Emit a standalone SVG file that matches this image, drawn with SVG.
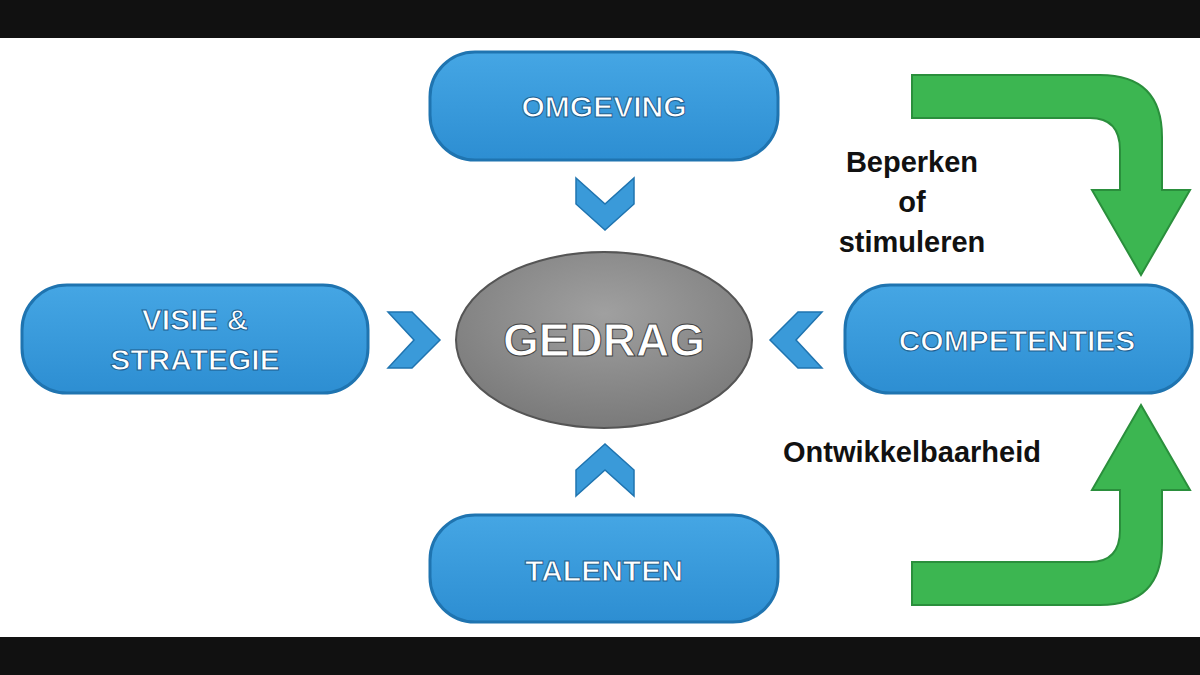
<svg xmlns="http://www.w3.org/2000/svg" width="1200" height="675" viewBox="0 0 1200 675">
<defs>
<linearGradient id="bg" x1="0" y1="0" x2="0" y2="1"><stop offset="0" stop-color="#45a6e4"/><stop offset="1" stop-color="#2d8ed2"/></linearGradient>
<radialGradient id="gg" cx="0.5" cy="0.35" r="0.7"><stop offset="0" stop-color="#a0a0a0"/><stop offset="1" stop-color="#777"/></radialGradient>
</defs>
<style>
.box{fill:url(#bg);stroke:#1f74b0;stroke-width:3}
.lbl{font-family:"Liberation Sans",Arial,sans-serif;font-weight:bold;fill:#fff;font-size:30px;text-anchor:middle;stroke:#1c5f90;stroke-width:1}
.blk{font-family:"Liberation Sans",Arial,sans-serif;font-weight:bold;fill:#111;font-size:29px;text-anchor:middle}
.chev{fill:#3a9ad9;stroke:#1f74b0;stroke-width:1.5}
.grn{fill:#3cb651;stroke:#2a8f3c;stroke-width:2}
</style>
<rect width="1200" height="675" fill="#fff"/>
<rect width="1200" height="38" fill="#111"/>
<rect y="637" width="1200" height="38" fill="#111"/>
<g id="omgeving"><rect class="box" x="430" y="52" width="348" height="108" rx="45"/><text class="lbl" x="604" y="117">OMGEVING</text></g>
<g id="visie"><rect class="box" x="22" y="285" width="346" height="108" rx="45"/><text class="lbl" x="195" y="330">VISIE &amp;</text><text class="lbl" x="195" y="370">STRATEGIE</text></g>
<g id="competenties"><rect class="box" x="845" y="285" width="347" height="108" rx="45"/><text class="lbl" x="1017" y="351">COMPETENTIES</text></g>
<g id="talenten"><rect class="box" x="430" y="515" width="348" height="107" rx="45"/><text class="lbl" x="604" y="581">TALENTEN</text></g>
<g id="gedrag"><ellipse cx="604" cy="340" rx="148" ry="88" fill="url(#gg)" stroke="#555" stroke-width="2"/><text class="lbl" x="604" y="356" font-size="46" style="font-size:46px;fill:#fff;stroke:#444">GEDRAG</text></g>
<g id="connectors">
<polygon class="chev" points="576,178 605,204 634,178 634,204 605,230 576,204"/>
<polygon class="chev" points="576,496 605,470 634,496 634,470 605,444 576,470"/>
<polygon class="chev" points="388,312 414,340 388,368 412,368 440,340 412,312"/>
<polygon class="chev" points="822,312 796,340 822,368 798,368 770,340 798,312"/>
<path class="grn" d="M912,75 H1100 Q1162,75 1162,137 V190 H1190 L1141,275 L1092,190 H1120 V150 Q1120,118 1090,118 H912 Z"/>
<path class="grn" d="M912,605 H1100 Q1162,605 1162,543 V490 H1190 L1141,405 L1092,490 H1120 V530 Q1120,562 1090,562 H912 Z"/>
<text class="blk" x="912" y="172">Beperken</text>
<text class="blk" x="912" y="212">of</text>
<text class="blk" x="912" y="252">stimuleren</text>
<text class="blk" x="912" y="462">Ontwikkelbaarheid</text>
</g>
</svg>
